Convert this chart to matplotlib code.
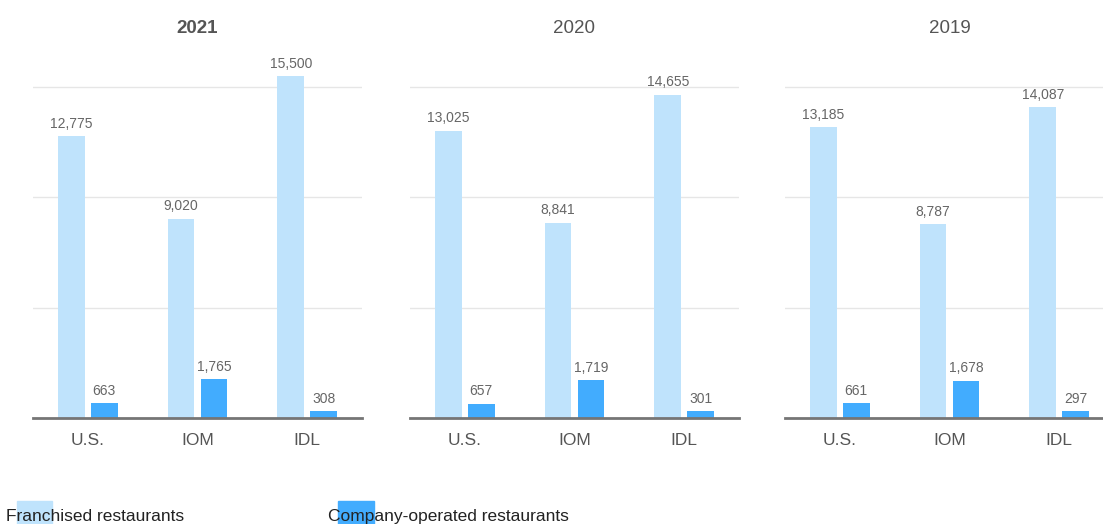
import numpy as np
import matplotlib.pyplot as plt
from matplotlib.patches import Rectangle

plt.rcParams['font.family'] = ['Liberation Sans', 'DejaVu Sans']

regions = ['U.S.', 'IOM', 'IDL']
years = ['2021', '2020', '2019']
franchised = {
    '2021': [12775, 9020, 15500],
    '2020': [13025, 8841, 14655],
    '2019': [13185, 8787, 14087],
}
company = {
    '2021': [663, 1765, 308],
    '2020': [657, 1719, 301],
    '2019': [661, 1678, 297],
}

light = '#bfe3fc'
dark = '#42acfe'

W, H = 1103, 524
fig = plt.figure(figsize=(W / 100, H / 100), dpi=100)

lefts = [33, 410, 785]
x = np.arange(len(regions))
bw = 0.245
for i, yr in enumerate(years):
    ax = fig.add_axes([lefts[i] / W, (H - 418) / H, 329 / W, 375 / H])
    b1 = ax.bar(x - 0.15, franchised[yr], bw, color=light, zorder=2)
    b2 = ax.bar(x + 0.15, company[yr], bw, color=dark, zorder=2)
    for bars in (b1, b2):
        ax.bar_label(bars, labels=[f'{b.get_height():,.0f}' for b in bars],
                     padding=4, fontsize=10, color='#666666')
    ax.set_xlim(-0.5, 2.5)
    ax.set_ylim(0, 17000)
    ax.set_yticks([5000, 10000, 15000])
    ax.yaxis.grid(True, color='#e6e6e6', lw=1, zorder=0)
    ax.tick_params(left=False, labelleft=False, bottom=False, pad=7)
    ax.set_xticks(x)
    ax.set_xticklabels(regions, fontsize=12.5, color='#555555')
    for s in ('top', 'left', 'right'):
        ax.spines[s].set_visible(False)
    ax.spines['bottom'].set_color('#757575')
    ax.spines['bottom'].set_linewidth(2)
    ax.spines['bottom'].set_zorder(3)
    ax.set_title(yr, fontsize=13.5, color='#555555', pad=7,
                 fontweight='bold' if i == 0 else 'normal')

# legend: swatch drawn behind the label text
fig.patches.append(Rectangle((17 / W, 0), 35 / W, 23 / H, transform=fig.transFigure,
                             color=light, zorder=0))
fig.patches.append(Rectangle((338 / W, 0), 36 / W, 23 / H, transform=fig.transFigure,
                             color=dark, zorder=0))
fig.text(6 / W, 3 / H, 'Franchised restaurants', fontsize=12.5, color='#222222', va='baseline')
fig.text(328 / W, 3 / H, 'Company-operated restaurants', fontsize=12.5, color='#222222', va='baseline')

fig.savefig('out.png', dpi=100, facecolor='white')
